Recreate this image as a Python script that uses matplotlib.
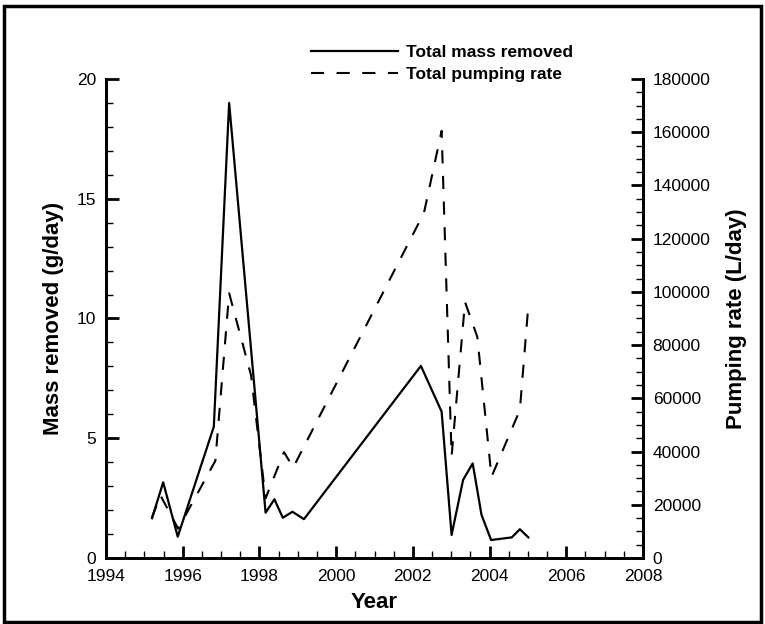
import matplotlib
matplotlib.use("Agg")
import matplotlib.pyplot as plt
from matplotlib.patches import Rectangle
from matplotlib.ticker import MultipleLocator

plt.rcParams['font.family'] = ['Liberation Sans', 'DejaVu Sans']

# total mass removed (g/day)
years_mass = [1995.2, 1995.49, 1995.87, 1996.81, 1997.21, 1998.16, 1998.39, 1998.61,
              1998.86, 1999.16, 2002.21, 2002.75, 2003.01, 2003.31, 2003.56, 2003.79,
              2004.04, 2004.58, 2004.79, 2005.01]
mass = [1.66, 3.16, 0.89, 5.48, 19.0, 1.89, 2.45, 1.68,
        1.93, 1.62, 8.02, 6.11, 0.96, 3.26, 3.95, 1.80,
        0.75, 0.86, 1.20, 0.86]

# total pumping rate (L/day)
years_pump = [1995.19, 1995.42, 1995.88, 1996.85, 1997.21, 1997.78, 1998.16, 1998.64,
              1998.88, 2002.29, 2002.75, 2003.01, 2003.36, 2003.68, 2004.05, 2004.79,
              2005.02]
pump = [15000, 23500, 11000, 36500, 99500, 68700, 22400, 39800,
        34000, 129700, 160500, 38300, 96200, 83100, 30500, 55600,
        96500]

fig = plt.figure(figsize=(7.65, 6.24), dpi=100)
ax = fig.add_axes([0.1386, 0.1058, 0.7019, 0.7676])
ax2 = ax.twinx()

l1, = ax.plot(years_mass, mass, color='black', lw=1.6, label='Total mass removed')
l2, = ax2.plot(years_pump, pump, color='black', lw=1.5, ls=(0, (6.3, 6.0)),
               label='Total pumping rate')

ax.set_xlim(1994, 2008)
ax.set_ylim(0, 20)
ax2.set_ylim(0, 180000)

ax.xaxis.set_major_locator(MultipleLocator(2))
ax.xaxis.set_minor_locator(MultipleLocator(0.5))
ax.yaxis.set_major_locator(MultipleLocator(5))
ax.yaxis.set_minor_locator(MultipleLocator(1))
ax2.yaxis.set_major_locator(MultipleLocator(20000))
ax2.yaxis.set_minor_locator(MultipleLocator(5000))

for a in (ax, ax2):
    a.spines['top'].set_visible(False)
    for s in a.spines.values():
        s.set_linewidth(2)
    a.tick_params(which='major', direction='in', length=9, width=2, labelsize=12.5, pad=7)
    a.tick_params(which='minor', direction='in', length=5, width=1)
ax.tick_params(axis='x', pad=8)

ax.set_xlabel('Year', fontsize=16, fontweight='bold', labelpad=6)
ax.set_ylabel('Mass removed (g/day)', fontsize=16, fontweight='bold', labelpad=9)
ax2.set_ylabel('Pumping rate (L/day)', fontsize=16, fontweight='bold', labelpad=11)

fig.legend(handles=[l1, l2], loc='upper left', bbox_to_anchor=(0.395, 0.942),
           frameon=False, prop={'weight': 'bold', 'size': 12.5},
           handlelength=5.0, handletextpad=0.5, labelspacing=0.42, borderpad=0)

fig.patches.append(Rectangle((0.005, 0.003), 0.99, 0.988, transform=fig.transFigure,
                             fill=False, edgecolor='black', lw=2.5))

fig.savefig('out.png', dpi=100)
